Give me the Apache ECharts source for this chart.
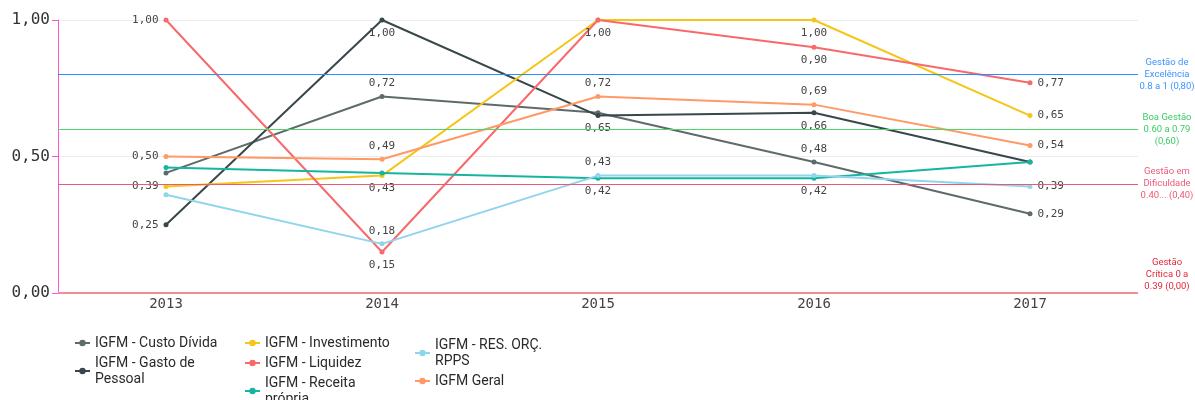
<!DOCTYPE html>
<html>
<head>
<meta charset="utf-8">
<script src="https://cdn.jsdelivr.net/npm/echarts@6/dist/echarts.min.js"></script>
<style>
  html, body { margin: 0; padding: 0; background: #fff; }
  #chart { width: 1195px; height: 400px; }
</style>
</head>
<body>
<div id="chart"></div>
<script>
// anos e valores
const years = ['2013', '2014', '2015', '2016', '2017']
const custoDivida = [0.44, 0.72, 0.66, 0.48, 0.29]
const gastoPessoal = [0.25, 1.00, 0.65, 0.66, 0.48]
const investimento = [0.39, 0.43, 1.00, 1.00, 0.65]
const liquidez = [1.00, 0.15, 1.00, 0.90, 0.77]
const receitaPropria = [0.46, 0.44, 0.42, 0.42, 0.48]
const resOrcRpps = [0.36, 0.18, 0.43, 0.43, 0.39]
const geral = [0.50, 0.49, 0.72, 0.69, 0.54]

const yTicks = [0, 0.5, 1]

// faixas de referência
const faixaValores = [0.8, 0.6, 0.4, 0]
const faixaTextos = [
  'Gestão de\nExcelência\n0.8 a 1 (0,80)',
  'Boa Gestão\n0.60 a 0.79\n(0,60)',
  'Gestão em\nDificuldade\n0.40... (0,40)',
  'Gestão\nCrítica 0 a\n0.39 (0,00)'
]
const faixaCores = ['#2b8cff', '#4fd66a', '#ea5a78', '#eb9095']
const faixaTextoCores = ['#3d94ff', '#3dcc66', '#ee5a78', '#e3283c']

// nomes quebrados como na legenda original
const legendaQuebra = {
  'IGFM - Gasto de Pessoal': 'IGFM - Gasto de\nPessoal',
  'IGFM - Receita própria': 'IGFM - Receita\nprópria',
  'IGFM - RES. ORÇ. RPPS': 'IGFM - RES. ORÇ.\nRPPS'
}

const fmt = v => v.toFixed(2).replace('.', ',')

const seriesDefs = [
  { name: 'IGFM - Custo Dívida', data: custoDivida, color: '#5f6a6c', pos: [null, 'top', null, 'top', 'right'] },
  { name: 'IGFM - Gasto de Pessoal', data: gastoPessoal, color: '#37474a', pos: ['left', 'bottom', 'bottom', 'bottom', null] },
  { name: 'IGFM - Investimento', data: investimento, color: '#f5c518', pos: ['left', 'bottom', null, 'bottom', 'right'] },
  { name: 'IGFM - Liquidez', data: liquidez, color: '#f8696b', pos: ['left', 'bottom', 'bottom', 'bottom', 'right'] },
  { name: 'IGFM - Receita própria', data: receitaPropria, color: '#16b5a0', pos: [null, null, 'bottom', 'bottom', null] },
  { name: 'IGFM - RES. ORÇ. RPPS', data: resOrcRpps, color: '#8fd5ec', pos: [null, 'top', 'top', null, 'right'] },
  { name: 'IGFM Geral', data: geral, color: '#ff9966', pos: ['left', 'top', 'top', 'top', 'right'] }
]

const series = seriesDefs.map(s => ({
  name: s.name,
  type: 'line',
  symbol: 'circle',
  symbolSize: 5,
  color: s.color,
  lineStyle: { width: 2 },
  data: s.data.map((v, i) => ({
    value: v,
    label: {
      show: !!s.pos[i],
      position: s.pos[i] || 'top',
      distance: 5,
      formatter: p => fmt(p.value),
      fontFamily: 'DejaVu Sans Mono',
      fontSize: 11,
      color: '#444'
    }
  })),
  z: 3
}))

// linhas das faixas
series.push({
  name: 'faixas',
  type: 'line',
  data: [],
  silent: true,
  markLine: {
    symbol: 'none',
    silent: true,
    animation: false,
    data: faixaValores.map((v, i) => ({
      yAxis: v,
      lineStyle: { color: faixaCores[i], width: v === 0 ? 2 : 1, type: 'solid' },
      label: {
        formatter: faixaTextos[i],
        position: 'end',
        distance: 29,
        align: 'center',
        verticalAlign: v === 0 ? 'bottom' : 'middle',
        color: faixaTextoCores[i],
        fontFamily: 'Roboto',
        fontSize: 9.5,
        lineHeight: 12
      }
    }))
  },
  z: 2
})

const legendBase = {
  orient: 'vertical',
  height: 90,
  itemWidth: 15,
  itemHeight: 8,
  itemGap: 4,
  formatter: name => legendaQuebra[name] || name,
  textStyle: {
    fontFamily: 'Roboto',
    fontSize: 14,
    color: '#2a2a2a',
    lineHeight: 16
  }
}

const chart = echarts.init(document.getElementById('chart'))
chart.setOption({
  animation: false,
  grid: { left: 58, right: 57, top: 20, bottom: 107 },
  legend: [
    { ...legendBase, left: 69, top: 330, data: ['IGFM - Custo Dívida', 'IGFM - Gasto de Pessoal'] },
    { ...legendBase, left: 239, top: 330, data: ['IGFM - Investimento', 'IGFM - Liquidez', 'IGFM - Receita própria'] },
    { ...legendBase, left: 409, top: 332, data: ['IGFM - RES. ORÇ. RPPS', 'IGFM Geral'] }
  ],
  xAxis: {
    type: 'category',
    data: years,
    boundaryGap: true,
    axisLine: { show: false },
    axisTick: { show: false },
    axisLabel: { fontFamily: 'DejaVu Sans Mono', fontSize: 14, color: '#444', margin: 4 }
  },
  yAxis: {
    type: 'value',
    min: yTicks[0],
    max: yTicks[yTicks.length - 1],
    interval: 0.5,
    axisLine: { show: true, lineStyle: { color: '#ff55c8', width: 1 } },
    axisTick: { show: true, length: 6, lineStyle: { color: '#ff55c8' } },
    splitLine: { lineStyle: { color: '#ececec' } },
    axisLabel: {
      formatter: v => fmt(v),
      fontFamily: 'DejaVu Sans Mono',
      fontSize: 16,
      color: '#333',
      margin: 8
    }
  },
  series: series
})
</script>
</body>
</html>
